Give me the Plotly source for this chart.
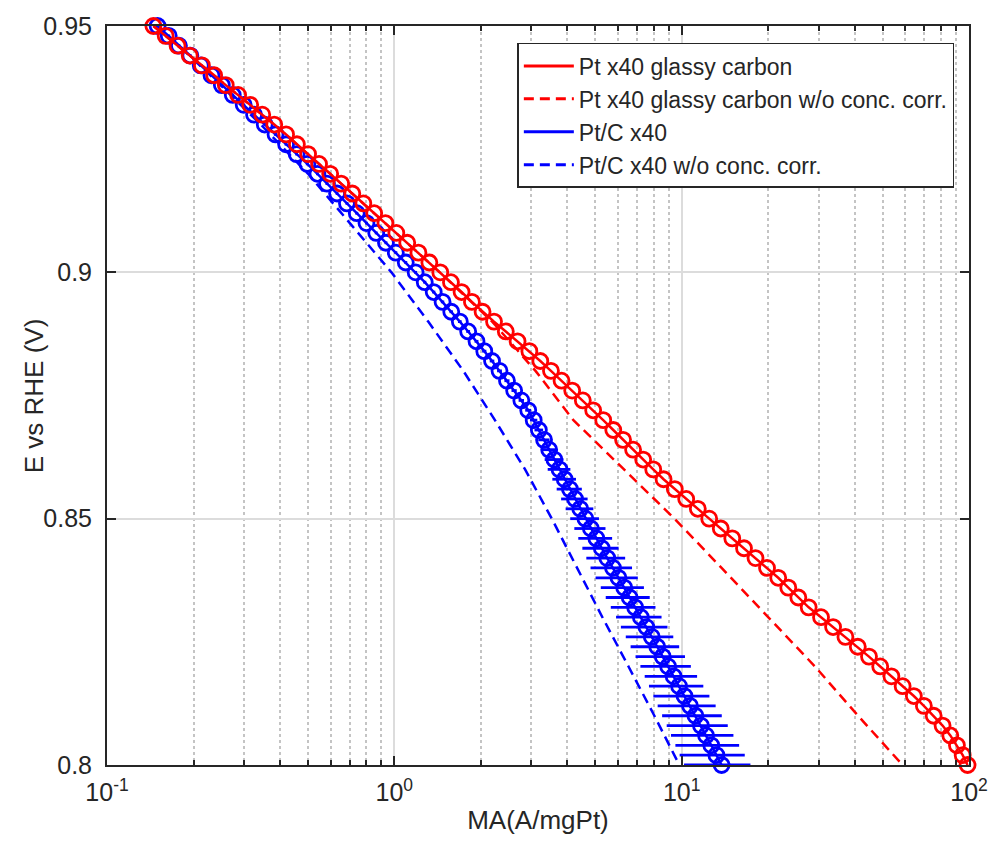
import plotly.graph_objects as go

# Potentials (V vs RHE) for the marker series, 0.95 -> 0.80 V
E_pts = [0.950, 0.948, 0.946, 0.944, 0.942, 0.940, 0.938, 0.936, 0.934, 0.932,
         0.930, 0.928, 0.926, 0.924, 0.922, 0.920, 0.918, 0.916, 0.914, 0.912,
         0.910, 0.908, 0.906, 0.904, 0.902, 0.900, 0.898, 0.896, 0.894, 0.892,
         0.890, 0.888, 0.886, 0.884, 0.882, 0.880, 0.878, 0.876, 0.874, 0.872,
         0.870, 0.868, 0.866, 0.864, 0.862, 0.860, 0.858, 0.856, 0.854, 0.852,
         0.850, 0.848, 0.846, 0.844, 0.842, 0.840, 0.838, 0.836, 0.834, 0.832,
         0.830, 0.828, 0.826, 0.824, 0.822, 0.820, 0.818, 0.816, 0.814, 0.812,
         0.810, 0.808, 0.806, 0.804, 0.802, 0.800]

# Pt x40 glassy carbon (A/mgPt)
ma_pt_gc = [0.145, 0.160, 0.176, 0.194, 0.214, 0.236, 0.259, 0.286, 0.315, 0.347,
            0.382, 0.420, 0.458, 0.501, 0.547, 0.598, 0.653, 0.714, 0.780, 0.851,
            0.931, 1.016, 1.109, 1.213, 1.324, 1.445, 1.574, 1.714, 1.862, 2.028,
            2.223, 2.443, 2.685, 2.951, 3.221, 3.508, 3.819, 4.159, 4.529, 4.920,
            5.333, 5.781, 6.252, 6.776, 7.345, 7.962, 8.650, 9.462, 10.37, 11.38,
            12.47, 13.68, 15.00, 16.48, 18.07, 19.82, 21.68, 23.50, 25.47, 27.67,
            30.55, 33.65, 37.15, 41.02, 44.87, 49.09, 53.70, 58.75, 64.27, 69.66,
            75.34, 80.91, 86.10, 90.78, 95.06, 98.86]

# Pt/C x40 (A/mgPt) and its horizontal error
ma_ptc = [0.150, 0.164, 0.178, 0.195, 0.212, 0.231, 0.251, 0.274, 0.299, 0.325,
          0.354, 0.386, 0.420, 0.457, 0.498, 0.540, 0.583, 0.632, 0.684, 0.740,
          0.800, 0.865, 0.935, 1.012, 1.096, 1.186, 1.276, 1.371, 1.472, 1.578,
          1.690, 1.807, 1.932, 2.056, 2.188, 2.323, 2.466, 2.612, 2.767, 2.924,
          3.055, 3.184, 3.319, 3.459, 3.606, 3.758, 3.917, 4.083, 4.256, 4.436,
          4.624, 4.831, 5.047, 5.272, 5.508, 5.768, 6.026, 6.310, 6.592, 6.887,
          7.211, 7.534, 7.870, 8.222, 8.590, 8.974, 9.376, 9.795, 10.23, 10.69,
          11.17, 11.67, 12.16, 12.68, 13.21, 13.77]

ptc_err = [0.002, 0.002, 0.002, 0.002, 0.003, 0.003, 0.003, 0.003, 0.004, 0.004,
           0.004, 0.005, 0.005, 0.005, 0.006, 0.006, 0.007, 0.007, 0.008, 0.009,
           0.009, 0.010, 0.011, 0.012, 0.013, 0.014, 0.016, 0.018, 0.020, 0.022,
           0.025, 0.028, 0.030, 0.035, 0.040, 0.045, 0.050, 0.055, 0.060, 0.070,
           0.09, 0.11, 0.15, 0.21, 0.27, 0.34, 0.37, 0.41, 0.45, 0.49,
           0.53, 0.60, 0.68, 0.76, 0.85, 0.95, 1.01, 1.08, 1.15, 1.22,
           1.30, 1.39, 1.48, 1.58, 1.68, 1.79, 1.94, 2.10, 2.26, 2.44,
           2.62, 2.80, 2.98, 3.17, 3.37, 3.58]

# Curves without concentration correction
E_line = [0.95, 0.94, 0.93, 0.92, 0.91, 0.90, 0.89, 0.88,
          0.87, 0.86, 0.85, 0.84, 0.83, 0.82, 0.81, 0.80]
ma_pt_gc_nocorr = [0.145, 0.236, 0.382, 0.598, 0.931, 1.44, 2.19, 3.10,
                   4.20, 6.31, 9.44, 13.77, 20.09, 29.1, 41.1, 58.7]
ma_ptc_nocorr = [0.150, 0.229, 0.343, 0.501, 0.700, 0.977, 1.312, 1.738,
                 2.239, 2.851, 3.532, 4.325, 5.297, 6.531, 8.035, 9.817]

x_ticks = [0.1, 1, 10, 100]
x_ticktext = ["10<sup>-1</sup>", "10<sup>0</sup>", "10<sup>1</sup>", "10<sup>2</sup>"]
y_ticks = [0.8, 0.85, 0.9, 0.95]
y_ticktext = ["0.8", "0.85", "0.9", "0.95"]

names = ["Pt x40 glassy carbon", "Pt x40 glassy carbon w/o conc. corr.",
         "Pt/C x40", "Pt/C x40 w/o conc. corr."]
RED = "#ff0000"
BLUE = "#0000ff"
DASH = "10px,6px"
TXT = "#262626"

fig = go.Figure()

# data traces (drawn blue first, red on top)
fig.add_trace(go.Scatter(x=ma_ptc_nocorr, y=E_line, mode="lines",
                         line=dict(color=BLUE, width=2.5, dash=DASH),
                         showlegend=False, cliponaxis=False))
fig.add_trace(go.Scatter(x=ma_ptc, y=E_pts, mode="lines+markers",
                         line=dict(color=BLUE, width=2.5),
                         marker=dict(symbol="circle-open", size=15,
                                     line=dict(color=BLUE, width=2.8)),
                         error_x=dict(type="data", array=ptc_err, visible=True,
                                      color=BLUE, thickness=2.8, width=0),
                         showlegend=False, cliponaxis=False))
fig.add_trace(go.Scatter(x=ma_pt_gc_nocorr, y=E_line, mode="lines",
                         line=dict(color=RED, width=2.5, dash=DASH),
                         showlegend=False, cliponaxis=False))
fig.add_trace(go.Scatter(x=ma_pt_gc, y=E_pts, mode="lines+markers",
                         line=dict(color=RED, width=2.5),
                         marker=dict(symbol="circle-open", size=15,
                                     line=dict(color=RED, width=2.8)),
                         showlegend=False, cliponaxis=False))

# legend entries (lines only, as in the original)
for nm, col, dsh in zip(names, [RED, RED, BLUE, BLUE],
                        ["solid", DASH, "solid", DASH]):
    fig.add_trace(go.Scatter(x=[None], y=[None], mode="lines", name=nm,
                             line=dict(color=col, width=3, dash=dsh)))

minor_x = [m * 10 ** k for k in (-1, 0, 1) for m in range(2, 10)]

fig.update_layout(
    width=1000, height=856,
    margin=dict(l=107, r=27, t=23, b=91),
    plot_bgcolor="white", paper_bgcolor="white",
    font=dict(family="Liberation Sans, Arial, sans-serif", size=24, color=TXT),
    legend=dict(x=0.983, xanchor="right", y=0.977, yanchor="top",
                bgcolor="white", bordercolor=TXT, borderwidth=1.5,
                font=dict(size=23), itemwidth=50, tracegroupgap=0),
    xaxis=dict(type="log", range=[-1, 2], tickvals=x_ticks, ticktext=x_ticktext,
               showgrid=True, gridcolor="#dcdcdc", gridwidth=1.5,
               ticks="inside", ticklen=9, tickwidth=1.5, tickcolor=TXT,
               showline=True, linecolor=TXT, linewidth=2, mirror="ticks",
               zeroline=False, ticklabelstandoff=4, tickfont=dict(size=25),
               minor=dict(tickvals=minor_x, ticks="inside", ticklen=5,
                          tickcolor=TXT, showgrid=True,
                          gridcolor="#c4c4c4", griddash="dot", gridwidth=1.5),
               title=dict(text="MA(A/mgPt)", font=dict(size=26), standoff=6)),
    yaxis=dict(range=[0.8, 0.95], tickvals=y_ticks, ticktext=y_ticktext,
               showgrid=True, gridcolor="#dcdcdc", gridwidth=1.5,
               ticks="inside", ticklen=9, tickwidth=1.5, tickcolor=TXT,
               showline=True, linecolor=TXT, linewidth=2, mirror="ticks",
               zeroline=False, ticklabelstandoff=8, tickfont=dict(size=25)),
    annotations=[dict(text="E vs RHE (V)", textangle=-90, showarrow=False,
                      xref="paper", yref="paper", x=-0.085, y=0.5,
                      xanchor="center", yanchor="middle",
                      font=dict(size=26, color=TXT))],
)

fig.write_html("out.html")
